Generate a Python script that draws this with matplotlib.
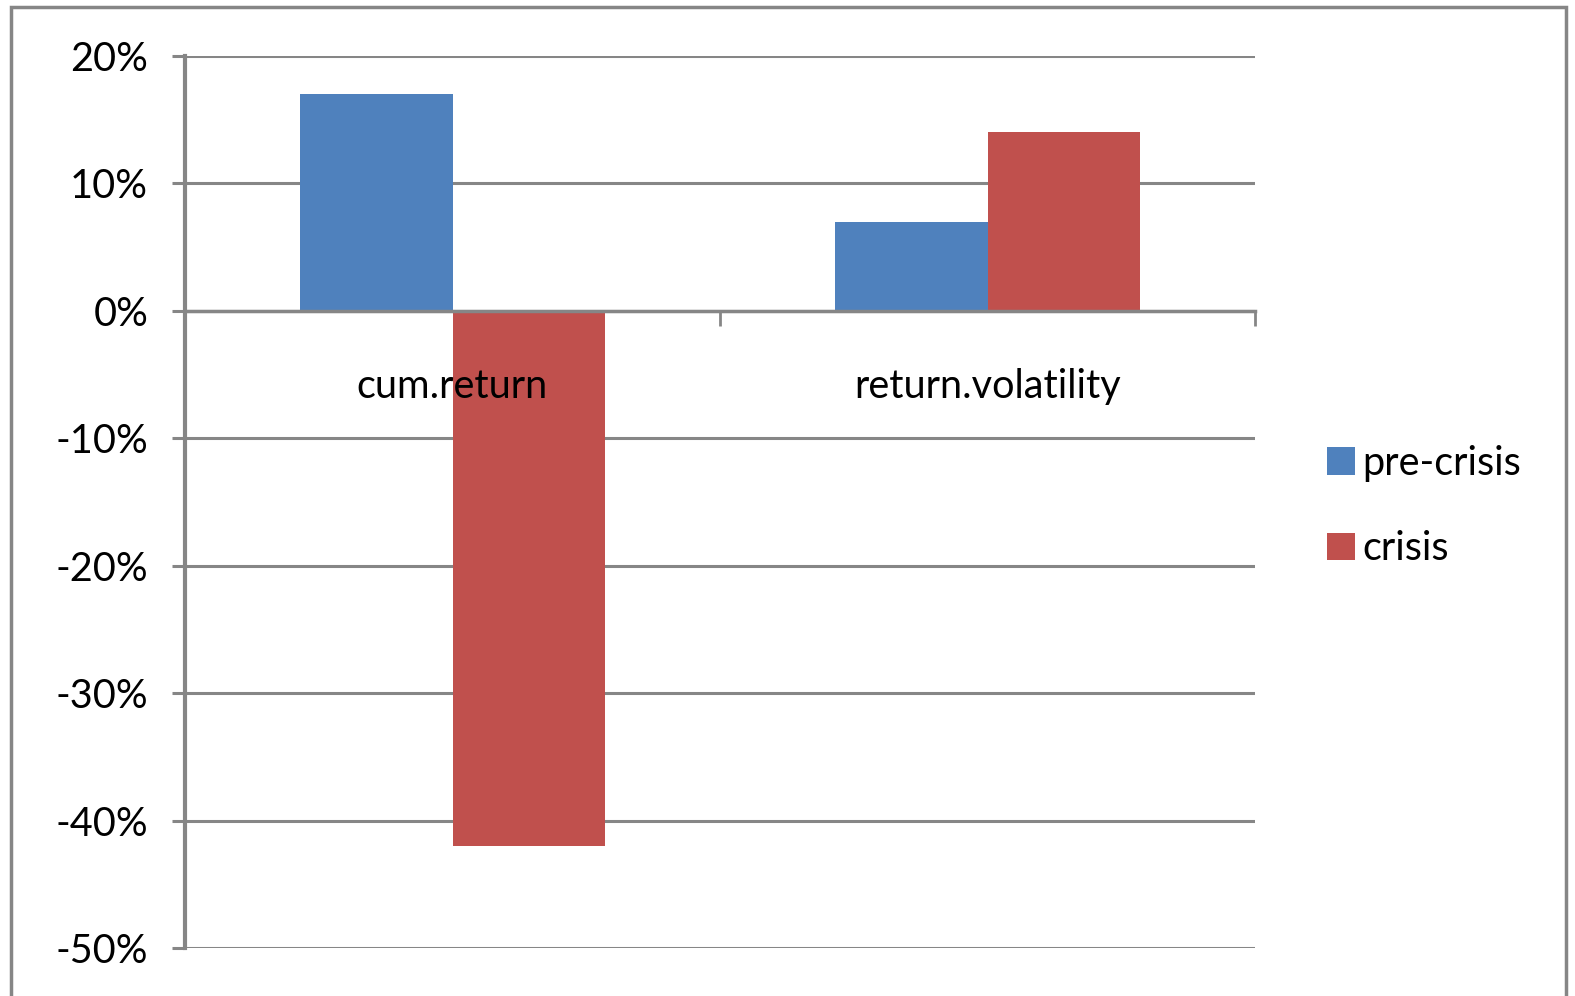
import numpy as np
import matplotlib.pyplot as plt
from matplotlib.patches import Rectangle
from matplotlib.ticker import PercentFormatter

categories = ["cum.return", "return.volatility"]
pre_crisis = [0.17, 0.07]
crisis = [-0.42, 0.14]
series_names = ["pre-crisis", "crisis"]
yticks = [0.2, 0.1, 0.0, -0.1, -0.2, -0.3, -0.4, -0.5]

BLUE = "#4F81BD"
RED = "#C0504D"
GRID = "#868686"

plt.rcParams['font.family'] = ['Lato', 'DejaVu Sans']
plt.rcParams['axes.unicode_minus'] = False

W, H = 1575, 996
FS = 28.5
fig = plt.figure(figsize=(W / 100, H / 100), dpi=100)
ax = fig.add_axes([185 / W, 1 - 948 / H, (1255 - 185) / W, (948 - 56) / H])

# excel-style clustered bars, gap width 150%
x = np.arange(len(categories))
bw = 1 / 3.5
ax.bar(x - bw / 2, pre_crisis, bw, color=BLUE, label=series_names[0], zorder=3)
ax.bar(x + bw / 2, crisis, bw, color=RED, label=series_names[1], zorder=3)

ax.set_xlim(-0.5, len(categories) - 0.5)
ax.set_ylim(-0.5, 0.2)
ax.set_yticks(yticks)
ax.yaxis.set_major_formatter(PercentFormatter(1.0, decimals=0))
ax.yaxis.grid(True, color=GRID, lw=2.2, zorder=1)
ax.set_axisbelow(True)

for s in ["top", "right"]:
    ax.spines[s].set_visible(False)
ax.spines["left"].set_color(GRID)
ax.spines["left"].set_linewidth(3)
ax.spines["bottom"].set_position(("data", 0))
ax.spines["bottom"].set_color(GRID)
ax.spines["bottom"].set_linewidth(2.5)
ax.spines["bottom"].set_zorder(4)

ax.tick_params(axis="y", length=9.5, width=2.2, color=GRID, pad=17,
               labelsize=FS, labelcolor="black")
# tick marks sit on the category boundaries
ax.set_xticks(np.arange(len(categories) + 1) - 0.5)
ax.set_xticklabels([])
ax.tick_params(axis="x", which="major", length=11, width=2, color=GRID)

# category names go on top of the bars
for xi, name in zip(x, categories):
    ax.annotate(name, (xi, 0), xytext=(0, -54.5), textcoords="offset points",
                ha="center", va="center", fontsize=FS, zorder=6)

ax.legend(loc="center left", bbox_to_anchor=(1327 / W, 1 - 506 / H),
          bbox_transform=fig.transFigure, frameon=False, fontsize=FS,
          handlelength=0.7, handleheight=0.7, handletextpad=0.2,
          labelspacing=1.23, borderaxespad=0, borderpad=0)

# outer chart frame
fig.patches.append(Rectangle((11 / W, -0.05), (1566 - 11) / W, 1.05 - 7 / H,
                             transform=fig.transFigure, fill=False,
                             edgecolor=GRID, lw=2.5))

fig.savefig("out.png", dpi=100)
